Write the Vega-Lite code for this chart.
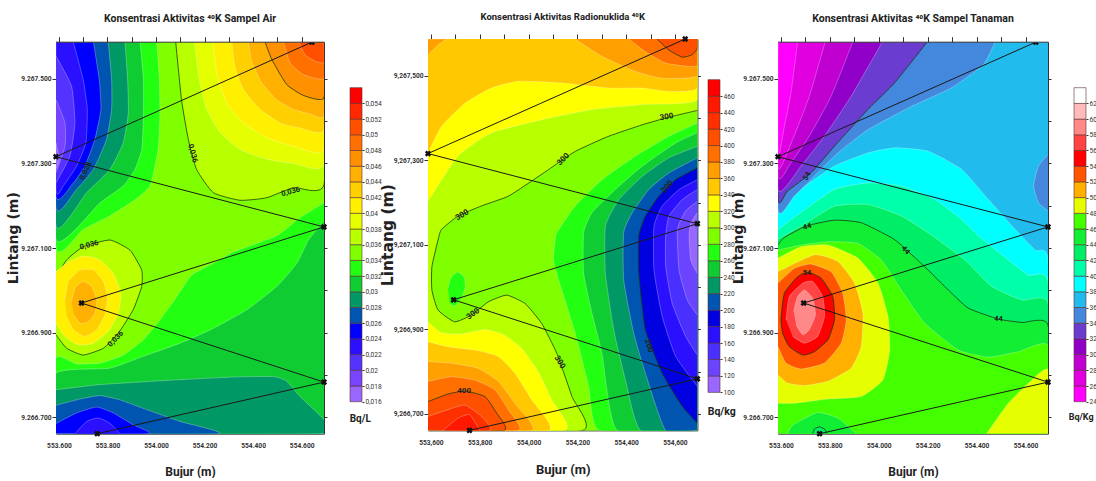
{"$schema":"https://vega.github.io/schema/vega-lite/v6.json","background":"white","padding":{"left":6,"top":12,"right":0,"bottom":0},"bounds":"flush","spacing":0,"resolve":{"scale":{"fill":"independent"}},
"config":{"view":{"stroke":null},"title":{"font":"Roboto","fontWeight":"bold","color":"#222"},"axis":{"labelFont":"Roboto","labelFontWeight":"bold","labelFontSize":6.6,"labelColor":"#333","domainColor":"#333","tickColor":"#333","grid":false}},
"datasets":{
"st":[{"x":554.642,"y":9267.587},{"x":553.588,"y":9267.316},{"x":554.692,"y":9267.15},{"x":553.693,"y":9266.97},{"x":554.692,"y":9266.783},{"x":553.758,"y":9266.661}],
"l1":[{"t":"0,036","x":554.151,"y":9267.324,"a":75},{"t":"0,036","x":554.555,"y":9267.233,"a":-15},{"t":"0,036","x":553.725,"y":9267.107,"a":-15},{"t":"0,036","x":553.834,"y":9266.885,"a":-45},{"t":"0,028","x":553.711,"y":9267.282,"a":-65}],
"l2":[{"t":"300","x":554.566,"y":9267.402,"a":-10},{"t":"300","x":554.143,"y":9267.302,"a":-45},{"t":"300","x":553.728,"y":9267.17,"a":-30},{"t":"300","x":553.773,"y":9266.936,"a":-35},{"t":"300","x":554.127,"y":9266.822,"a":60},{"t":"400","x":553.736,"y":9266.754,"a":0},{"t":"200","x":554.569,"y":9267.237,"a":-50},{"t":"200","x":554.493,"y":9266.861,"a":75}],
"l3":[{"t":"54","x":553.707,"y":9267.27,"a":-60},{"t":"44","x":553.707,"y":9267.15,"a":-15},{"t":"44","x":554.109,"y":9267.095,"a":50},{"t":"44","x":554.489,"y":9266.932,"a":5},{"t":"54","x":553.707,"y":9267.04,"a":0}],
"b1":[{"v":0.016,"w":0.018},{"v":0.018,"w":0.02},{"v":0.02,"w":0.022},{"v":0.022,"w":0.024},{"v":0.024,"w":0.026},{"v":0.026,"w":0.028},{"v":0.028,"w":0.03},{"v":0.03,"w":0.032},{"v":0.032,"w":0.034},{"v":0.034,"w":0.036},{"v":0.036,"w":0.038},{"v":0.038,"w":0.04},{"v":0.04,"w":0.042},{"v":0.042,"w":0.044},{"v":0.044,"w":0.046},{"v":0.046,"w":0.048},{"v":0.048,"w":0.05},{"v":0.05,"w":0.052},{"v":0.052,"w":0.054},{"v":0.054,"w":0.056}],
"b2":[{"v":100,"w":120},{"v":120,"w":140},{"v":140,"w":160},{"v":160,"w":180},{"v":180,"w":200},{"v":200,"w":220},{"v":220,"w":240},{"v":240,"w":260},{"v":260,"w":280},{"v":280,"w":300},{"v":300,"w":320},{"v":320,"w":340},{"v":340,"w":360},{"v":360,"w":380},{"v":380,"w":400},{"v":400,"w":420},{"v":420,"w":440},{"v":440,"w":460},{"v":460,"w":480}],
"b3":[{"v":24,"w":26},{"v":26,"w":28},{"v":28,"w":30},{"v":30,"w":32},{"v":32,"w":34},{"v":34,"w":36},{"v":36,"w":38},{"v":38,"w":40},{"v":40,"w":42},{"v":42,"w":44},{"v":44,"w":46},{"v":46,"w":48},{"v":48,"w":50},{"v":50,"w":52},{"v":52,"w":54},{"v":54,"w":56},{"v":56,"w":58},{"v":58,"w":60},{"v":60,"w":62},{"v":62,"w":64}],
"p1":[
{"v":0.034,"x":553.588,"y":9266.661},{"v":0.034,"x":554.692,"y":9266.661},{"v":0.034,"x":554.692,"y":9267.587},{"v":0.034,"x":553.588,"y":9267.587},
{"v":0.036,"x":554.081,"y":9267.588},{"v":0.036,"x":554.105,"y":9267.451},{"v":0.036,"x":554.133,"y":9267.357},{"v":0.036,"x":554.167,"y":9267.286},{"v":0.036,"x":554.236,"y":9267.231},{"v":0.036,"x":554.346,"y":9267.213},{"v":0.036,"x":554.456,"y":9267.219},{"v":0.036,"x":554.566,"y":9267.243},{"v":0.036,"x":554.692,"y":9267.25},{"v":0.036,"x":554.692,"y":9267.588},
{"v":0.0361,"x":553.588,"y":9267.029},{"v":0.0361,"x":553.632,"y":9267.072},{"v":0.0361,"x":553.7,"y":9267.103},{"v":0.0361,"x":553.81,"y":9267.119},{"v":0.0361,"x":553.893,"y":9267.095},{"v":0.0361,"x":553.941,"y":9267.048},{"v":0.0361,"x":553.941,"y":9267.009},{"v":0.0361,"x":553.906,"y":9266.954},{"v":0.0361,"x":553.845,"y":9266.899},{"v":0.0361,"x":553.783,"y":9266.863},{"v":0.0361,"x":553.7,"y":9266.847},{"v":0.0361,"x":553.632,"y":9266.863},{"v":0.0361,"x":553.588,"y":9266.895},
{"v":0.038,"x":554.158,"y":9267.588},{"v":0.038,"x":554.178,"y":9267.498},{"v":0.038,"x":554.209,"y":9267.428},{"v":0.038,"x":554.264,"y":9267.373},{"v":0.038,"x":554.346,"y":9267.333},{"v":0.038,"x":554.456,"y":9267.31},{"v":0.038,"x":554.566,"y":9267.3},{"v":0.038,"x":554.692,"y":9267.298},{"v":0.038,"x":554.692,"y":9267.588},
{"v":0.04,"x":554.236,"y":9267.588},{"v":0.04,"x":554.25,"y":9267.514},{"v":0.04,"x":554.291,"y":9267.443},{"v":0.04,"x":554.36,"y":9267.396},{"v":0.04,"x":554.456,"y":9267.361},{"v":0.04,"x":554.566,"y":9267.341},{"v":0.04,"x":554.692,"y":9267.333},{"v":0.04,"x":554.692,"y":9267.588},
{"v":0.0401,"x":553.588,"y":9267.044},{"v":0.0401,"x":553.632,"y":9267.064},{"v":0.0401,"x":553.7,"y":9267.081},{"v":0.0401,"x":553.769,"y":9267.072},{"v":0.0401,"x":553.824,"y":9267.04},{"v":0.0401,"x":553.854,"y":9266.993},{"v":0.0401,"x":553.845,"y":9266.946},{"v":0.0401,"x":553.803,"y":9266.903},{"v":0.0401,"x":553.742,"y":9266.875},{"v":0.0401,"x":553.68,"y":9266.871},{"v":0.0401,"x":553.625,"y":9266.891},{"v":0.0401,"x":553.588,"y":9266.922},
{"v":0.042,"x":554.312,"y":9267.588},{"v":0.042,"x":554.325,"y":9267.53},{"v":0.042,"x":554.36,"y":9267.475},{"v":0.042,"x":554.429,"y":9267.428},{"v":0.042,"x":554.511,"y":9267.396},{"v":0.042,"x":554.593,"y":9267.384},{"v":0.042,"x":554.692,"y":9267.38},{"v":0.042,"x":554.692,"y":9267.588},
{"v":0.0421,"x":553.625,"y":9266.977},{"v":0.0421,"x":553.639,"y":9267.021},{"v":0.0421,"x":553.687,"y":9267.048},{"v":0.0421,"x":553.742,"y":9267.048},{"v":0.0421,"x":553.783,"y":9267.021},{"v":0.0421,"x":553.8,"y":9266.985},{"v":0.0421,"x":553.79,"y":9266.942},{"v":0.0421,"x":553.756,"y":9266.907},{"v":0.0421,"x":553.707,"y":9266.891},{"v":0.0421,"x":553.659,"y":9266.907},{"v":0.0421,"x":553.632,"y":9266.938},
{"v":0.044,"x":554.38,"y":9267.588},{"v":0.044,"x":554.394,"y":9267.542},{"v":0.044,"x":554.435,"y":9267.491},{"v":0.044,"x":554.497,"y":9267.451},{"v":0.044,"x":554.566,"y":9267.428},{"v":0.044,"x":554.635,"y":9267.417},{"v":0.044,"x":554.692,"y":9267.414},{"v":0.044,"x":554.692,"y":9267.588},
{"v":0.0441,"x":553.652,"y":9266.973},{"v":0.0441,"x":553.666,"y":9267.005},{"v":0.0441,"x":553.7,"y":9267.021},{"v":0.0441,"x":553.735,"y":9267.009},{"v":0.0441,"x":553.756,"y":9266.977},{"v":0.0441,"x":553.749,"y":9266.946},{"v":0.0441,"x":553.721,"y":9266.926},{"v":0.0441,"x":553.687,"y":9266.922},{"v":0.0441,"x":553.662,"y":9266.942},
{"v":0.046,"x":554.449,"y":9267.588},{"v":0.046,"x":554.477,"y":9267.546},{"v":0.046,"x":554.538,"y":9267.487},{"v":0.046,"x":554.607,"y":9267.461},{"v":0.046,"x":554.692,"y":9267.455},{"v":0.046,"x":554.692,"y":9267.588},
{"v":0.048,"x":554.525,"y":9267.588},{"v":0.048,"x":554.552,"y":9267.538},{"v":0.048,"x":554.607,"y":9267.51},{"v":0.048,"x":554.692,"y":9267.501},{"v":0.048,"x":554.692,"y":9267.588},
{"v":0.05,"x":554.587,"y":9267.588},{"v":0.05,"x":554.614,"y":9267.557},{"v":0.05,"x":554.655,"y":9267.542},{"v":0.05,"x":554.692,"y":9267.539},{"v":0.05,"x":554.692,"y":9267.588},
{"v":0.032,"x":554.003,"y":9267.588},{"v":0.032,"x":554.014,"y":9267.498},{"v":0.032,"x":554.016,"y":9267.412},{"v":0.032,"x":554.009,"y":9267.333},{"v":0.032,"x":553.975,"y":9267.247},{"v":0.032,"x":553.906,"y":9267.211},{"v":0.032,"x":553.81,"y":9267.176},{"v":0.032,"x":553.7,"y":9267.144},{"v":0.032,"x":553.588,"y":9267.101},{"v":0.032,"x":553.588,"y":9267.588},
{"v":0.0321,"x":554.692,"y":9267.207},{"v":0.0321,"x":554.593,"y":9267.172},{"v":0.0321,"x":554.497,"y":9267.129},{"v":0.0321,"x":554.319,"y":9267.091},{"v":0.0321,"x":554.236,"y":9267.064},{"v":0.0321,"x":554.147,"y":9267.036},{"v":0.0321,"x":554.085,"y":9266.985},{"v":0.0321,"x":554.016,"y":9266.93},{"v":0.0321,"x":553.948,"y":9266.883},{"v":0.0321,"x":553.865,"y":9266.847},{"v":0.0321,"x":553.769,"y":9266.828},{"v":0.0321,"x":553.673,"y":9266.826},{"v":0.0321,"x":553.588,"y":9266.84},{"v":0.0321,"x":553.588,"y":9266.661},{"v":0.0321,"x":554.692,"y":9266.661},
{"v":0.03,"x":553.934,"y":9267.588},{"v":0.03,"x":553.948,"y":9267.498},{"v":0.03,"x":553.948,"y":9267.412},{"v":0.03,"x":553.941,"y":9267.333},{"v":0.03,"x":553.913,"y":9267.286},{"v":0.03,"x":553.865,"y":9267.247},{"v":0.03,"x":553.769,"y":9267.207},{"v":0.03,"x":553.588,"y":9267.121},{"v":0.03,"x":553.588,"y":9267.588},
{"v":0.0301,"x":554.692,"y":9267.164},{"v":0.0301,"x":554.628,"y":9267.119},{"v":0.0301,"x":554.58,"y":9267.064},{"v":0.0301,"x":554.497,"y":9267.009},{"v":0.0301,"x":554.374,"y":9266.954},{"v":0.0301,"x":554.236,"y":9266.91},{"v":0.0301,"x":554.099,"y":9266.875},{"v":0.0301,"x":553.948,"y":9266.844},{"v":0.0301,"x":553.81,"y":9266.816},{"v":0.0301,"x":553.588,"y":9266.804},{"v":0.0301,"x":553.588,"y":9266.661},{"v":0.0301,"x":554.692,"y":9266.661},
{"v":0.028,"x":553.872,"y":9267.588},{"v":0.028,"x":553.883,"y":9267.498},{"v":0.028,"x":553.886,"y":9267.42},{"v":0.028,"x":553.865,"y":9267.349},{"v":0.028,"x":553.81,"y":9267.286},{"v":0.028,"x":553.714,"y":9267.231},{"v":0.028,"x":553.588,"y":9267.152},{"v":0.028,"x":553.588,"y":9267.588},
{"v":0.0281,"x":553.588,"y":9266.765},{"v":0.0281,"x":553.769,"y":9266.777},{"v":0.0281,"x":554.044,"y":9266.787},{"v":0.0281,"x":554.319,"y":9266.795},{"v":0.0281,"x":554.484,"y":9266.796},{"v":0.0281,"x":554.538,"y":9266.785},{"v":0.0281,"x":554.593,"y":9266.749},{"v":0.0281,"x":554.692,"y":9266.694},{"v":0.0281,"x":554.692,"y":9266.661},{"v":0.0281,"x":553.588,"y":9266.661},
{"v":0.026,"x":553.803,"y":9267.588},{"v":0.026,"x":553.817,"y":9267.498},{"v":0.026,"x":553.817,"y":9267.428},{"v":0.026,"x":553.796,"y":9267.357},{"v":0.026,"x":553.742,"y":9267.286},{"v":0.026,"x":553.673,"y":9267.239},{"v":0.026,"x":553.588,"y":9267.195},{"v":0.026,"x":553.588,"y":9267.588},
{"v":0.0261,"x":553.588,"y":9266.728},{"v":0.0261,"x":553.687,"y":9266.743},{"v":0.0261,"x":553.769,"y":9266.751},{"v":0.0261,"x":553.851,"y":9266.741},{"v":0.0261,"x":553.961,"y":9266.718},{"v":0.0261,"x":554.099,"y":9266.69},{"v":0.0261,"x":554.257,"y":9266.661},{"v":0.0261,"x":553.588,"y":9266.661},
{"v":0.024,"x":553.742,"y":9267.588},{"v":0.024,"x":553.766,"y":9267.498},{"v":0.024,"x":553.773,"y":9267.428},{"v":0.024,"x":553.748,"y":9267.357},{"v":0.024,"x":553.707,"y":9267.294},{"v":0.024,"x":553.659,"y":9267.254},{"v":0.024,"x":553.588,"y":9267.223},{"v":0.024,"x":553.588,"y":9267.588},
{"v":0.0241,"x":553.588,"y":9266.685},{"v":0.0241,"x":553.673,"y":9266.71},{"v":0.0241,"x":553.755,"y":9266.724},{"v":0.0241,"x":553.824,"y":9266.71},{"v":0.0241,"x":553.906,"y":9266.682},{"v":0.0241,"x":553.968,"y":9266.661},{"v":0.0241,"x":553.588,"y":9266.661},
{"v":0.022,"x":553.659,"y":9267.588},{"v":0.022,"x":553.7,"y":9267.498},{"v":0.022,"x":553.717,"y":9267.428},{"v":0.022,"x":553.711,"y":9267.349},{"v":0.022,"x":553.673,"y":9267.294},{"v":0.022,"x":553.618,"y":9267.247},{"v":0.022,"x":553.588,"y":9267.239},{"v":0.022,"x":553.588,"y":9267.588},
{"v":0.0221,"x":553.666,"y":9266.661},{"v":0.0221,"x":553.714,"y":9266.69},{"v":0.0221,"x":553.762,"y":9266.698},{"v":0.0221,"x":553.81,"y":9266.686},{"v":0.0221,"x":553.851,"y":9266.661},
{"v":0.02,"x":553.588,"y":9267.554},{"v":0.02,"x":553.652,"y":9267.483},{"v":0.02,"x":553.666,"y":9267.396},{"v":0.02,"x":553.645,"y":9267.317},{"v":0.02,"x":553.588,"y":9267.254},
{"v":0.018,"x":553.588,"y":9267.451},{"v":0.018,"x":553.625,"y":9267.396},{"v":0.018,"x":553.625,"y":9267.341},{"v":0.018,"x":553.588,"y":9267.278},
{"v":0.016,"x":553.588,"y":9267.349},{"v":0.016,"x":553.601,"y":9267.31},{"v":0.016,"x":553.588,"y":9267.286}],
"p2":[
{"v":280,"x":553.588,"y":9266.661},{"v":280,"x":554.692,"y":9266.661},{"v":280,"x":554.692,"y":9267.587},{"v":280,"x":553.588,"y":9267.587},
{"v":300,"x":554.692,"y":9267.418},{"v":300,"x":554.575,"y":9267.402},{"v":300,"x":554.466,"y":9267.384},{"v":300,"x":554.329,"y":9267.357},{"v":300,"x":554.191,"y":9267.321},{"v":300,"x":554.082,"y":9267.278},{"v":300,"x":554.013,"y":9267.251},{"v":300,"x":553.917,"y":9267.215},{"v":300,"x":553.807,"y":9267.192},{"v":300,"x":553.711,"y":9267.168},{"v":300,"x":553.643,"y":9267.136},{"v":300,"x":553.629,"y":9267.111},{"v":300,"x":553.604,"y":9267.048},{"v":300,"x":553.604,"y":9266.993},{"v":300,"x":553.629,"y":9266.946},{"v":300,"x":553.697,"y":9266.918},{"v":300,"x":553.766,"y":9266.934},{"v":300,"x":553.835,"y":9266.965},{"v":300,"x":553.91,"y":9266.981},{"v":300,"x":553.986,"y":9266.961},{"v":300,"x":554.054,"y":9266.914},{"v":300,"x":554.116,"y":9266.843},{"v":300,"x":554.178,"y":9266.741},{"v":300,"x":554.222,"y":9266.661},{"v":300,"x":553.588,"y":9266.661},{"v":300,"x":553.588,"y":9267.587},{"v":300,"x":554.692,"y":9267.587},
{"v":320,"x":553.588,"y":9267.203},{"v":320,"x":553.711,"y":9267.31},{"v":320,"x":553.848,"y":9267.365},{"v":320,"x":554.054,"y":9267.396},{"v":320,"x":554.26,"y":9267.42},{"v":320,"x":554.466,"y":9267.432},{"v":320,"x":554.692,"y":9267.443},{"v":320,"x":554.692,"y":9267.587},{"v":320,"x":553.588,"y":9267.587},
{"v":320.5,"x":553.588,"y":9266.918},{"v":320.5,"x":553.643,"y":9266.892},{"v":320.5,"x":553.725,"y":9266.889},{"v":320.5,"x":553.821,"y":9266.9},{"v":320.5,"x":553.896,"y":9266.888},{"v":320.5,"x":553.972,"y":9266.855},{"v":320.5,"x":554.04,"y":9266.8},{"v":320.5,"x":554.095,"y":9266.733},{"v":320.5,"x":554.147,"y":9266.661},{"v":320.5,"x":553.588,"y":9266.661},
{"v":340,"x":553.588,"y":9267.317},{"v":340,"x":553.643,"y":9267.38},{"v":340,"x":553.739,"y":9267.435},{"v":340,"x":553.848,"y":9267.471},{"v":340,"x":553.958,"y":9267.487},{"v":340,"x":554.136,"y":9267.483},{"v":340,"x":554.329,"y":9267.471},{"v":340,"x":554.466,"y":9267.471},{"v":340,"x":554.575,"y":9267.463},{"v":340,"x":554.692,"y":9267.471},{"v":340,"x":554.692,"y":9267.587},{"v":340,"x":553.588,"y":9267.587},
{"v":340.5,"x":553.588,"y":9266.871},{"v":340.5,"x":553.67,"y":9266.859},{"v":340.5,"x":553.78,"y":9266.851},{"v":340.5,"x":553.876,"y":9266.836},{"v":340.5,"x":553.944,"y":9266.796},{"v":340.5,"x":554.013,"y":9266.733},{"v":340.5,"x":554.082,"y":9266.661},{"v":340.5,"x":553.588,"y":9266.661},
{"v":360,"x":553.588,"y":9267.55},{"v":360,"x":553.629,"y":9267.573},{"v":360,"x":553.663,"y":9267.587},{"v":360,"x":553.588,"y":9267.587},
{"v":360.5,"x":554.191,"y":9267.587},{"v":360.5,"x":554.301,"y":9267.546},{"v":360.5,"x":554.438,"y":9267.51},{"v":360.5,"x":554.548,"y":9267.494},{"v":360.5,"x":554.692,"y":9267.5},{"v":360.5,"x":554.692,"y":9267.587},
{"v":360.6,"x":553.588,"y":9266.824},{"v":360.6,"x":553.684,"y":9266.82},{"v":360.6,"x":553.793,"y":9266.808},{"v":360.6,"x":553.876,"y":9266.777},{"v":360.6,"x":553.944,"y":9266.725},{"v":360.6,"x":554.013,"y":9266.661},{"v":360.6,"x":553.588,"y":9266.661},
{"v":380,"x":554.411,"y":9267.587},{"v":380,"x":554.479,"y":9267.557},{"v":380,"x":554.562,"y":9267.53},{"v":380,"x":554.658,"y":9267.522},{"v":380,"x":554.692,"y":9267.526},{"v":380,"x":554.692,"y":9267.587},
{"v":380.5,"x":553.588,"y":9266.777},{"v":380.5,"x":553.684,"y":9266.788},{"v":380.5,"x":553.78,"y":9266.78},{"v":380.5,"x":553.862,"y":9266.757},{"v":380.5,"x":553.917,"y":9266.71},{"v":380.5,"x":553.958,"y":9266.661},{"v":380.5,"x":553.588,"y":9266.661},
{"v":400,"x":554.527,"y":9267.587},{"v":400,"x":554.575,"y":9267.561},{"v":400,"x":554.63,"y":9267.544},{"v":400,"x":554.671,"y":9267.55},{"v":400,"x":554.692,"y":9267.565},{"v":400,"x":554.692,"y":9267.587},
{"v":400.5,"x":553.588,"y":9266.729},{"v":400.5,"x":553.67,"y":9266.747},{"v":400.5,"x":553.739,"y":9266.754},{"v":400.5,"x":553.821,"y":9266.741},{"v":400.5,"x":553.869,"y":9266.702},{"v":400.5,"x":553.9,"y":9266.661},{"v":400.5,"x":553.588,"y":9266.661},
{"v":420,"x":553.588,"y":9266.694},{"v":420,"x":553.67,"y":9266.71},{"v":420,"x":553.739,"y":9266.721},{"v":420,"x":553.807,"y":9266.694},{"v":420,"x":553.841,"y":9266.661},{"v":420,"x":553.588,"y":9266.661},
{"v":440,"x":553.649,"y":9266.661},{"v":440,"x":553.711,"y":9266.69},{"v":440,"x":553.759,"y":9266.698},{"v":440,"x":553.8,"y":9266.661},
{"v":260,"x":554.692,"y":9267.388},{"v":260,"x":554.575,"y":9267.357},{"v":260,"x":554.438,"y":9267.31},{"v":260,"x":554.301,"y":9267.254},{"v":260,"x":554.191,"y":9267.192},{"v":260,"x":554.116,"y":9267.129},{"v":260,"x":554.109,"y":9267.111},{"v":260,"x":554.102,"y":9267.064},{"v":260,"x":554.123,"y":9267.017},{"v":260,"x":554.191,"y":9266.891},{"v":260,"x":554.246,"y":9266.765},{"v":260,"x":554.29,"y":9266.661},{"v":260,"x":554.692,"y":9266.661},
{"v":260.5,"x":553.67,"y":9266.997},{"v":260.5,"x":553.681,"y":9267.021},{"v":260.5,"x":553.708,"y":9267.036},{"v":260.5,"x":553.736,"y":9267.024},{"v":260.5,"x":553.741,"y":9267.001},{"v":260.5,"x":553.725,"y":9266.973},{"v":260.5,"x":553.697,"y":9266.955},{"v":260.5,"x":553.677,"y":9266.961},
{"v":240,"x":554.692,"y":9267.365},{"v":240,"x":554.603,"y":9267.341},{"v":240,"x":554.466,"y":9267.286},{"v":240,"x":554.356,"y":9267.231},{"v":240,"x":554.26,"y":9267.176},{"v":240,"x":554.226,"y":9267.129},{"v":240,"x":554.226,"y":9267.032},{"v":240,"x":554.26,"y":9266.938},{"v":240,"x":554.301,"y":9266.843},{"v":240,"x":554.363,"y":9266.661},{"v":240,"x":554.692,"y":9266.661},
{"v":220,"x":554.692,"y":9267.333},{"v":220,"x":554.575,"y":9267.306},{"v":220,"x":554.466,"y":9267.262},{"v":220,"x":554.37,"y":9267.207},{"v":220,"x":554.315,"y":9267.144},{"v":220,"x":554.315,"y":9267.032},{"v":220,"x":554.349,"y":9266.899},{"v":220,"x":554.397,"y":9266.78},{"v":220,"x":554.459,"y":9266.661},{"v":220,"x":554.692,"y":9266.661},
{"v":200,"x":554.692,"y":9267.306},{"v":200,"x":554.575,"y":9267.27},{"v":200,"x":554.493,"y":9267.231},{"v":200,"x":554.425,"y":9267.176},{"v":200,"x":554.39,"y":9267.129},{"v":200,"x":554.39,"y":9267.017},{"v":200,"x":554.431,"y":9266.891},{"v":200,"x":554.479,"y":9266.796},{"v":200,"x":554.562,"y":9266.661},{"v":200,"x":554.692,"y":9266.661},
{"v":180,"x":554.692,"y":9267.282},{"v":180,"x":554.603,"y":9267.254},{"v":180,"x":554.534,"y":9267.215},{"v":180,"x":554.479,"y":9267.168},{"v":180,"x":554.452,"y":9267.121},{"v":180,"x":554.452,"y":9267.032},{"v":180,"x":554.479,"y":9266.899},{"v":180,"x":554.548,"y":9266.796},{"v":180,"x":554.63,"y":9266.718},{"v":180,"x":554.692,"y":9266.678},
{"v":160,"x":554.692,"y":9267.254},{"v":160,"x":554.617,"y":9267.231},{"v":160,"x":554.548,"y":9267.192},{"v":160,"x":554.514,"y":9267.144},{"v":160,"x":554.514,"y":9267.04},{"v":160,"x":554.548,"y":9266.93},{"v":160,"x":554.603,"y":9266.836},{"v":160,"x":554.692,"y":9266.765},
{"v":140,"x":554.692,"y":9267.231},{"v":140,"x":554.63,"y":9267.207},{"v":140,"x":554.575,"y":9267.168},{"v":140,"x":554.562,"y":9267.121},{"v":140,"x":554.562,"y":9267.048},{"v":140,"x":554.589,"y":9266.961},{"v":140,"x":554.644,"y":9266.883},{"v":140,"x":554.692,"y":9266.839},
{"v":120,"x":554.692,"y":9267.203},{"v":120,"x":554.644,"y":9267.18},{"v":120,"x":554.61,"y":9267.136},{"v":120,"x":554.617,"y":9267.04},{"v":120,"x":554.651,"y":9266.969},{"v":120,"x":554.692,"y":9266.934},
{"v":100,"x":554.692,"y":9267.176},{"v":100,"x":554.665,"y":9267.152},{"v":100,"x":554.658,"y":9267.121},{"v":100,"x":554.665,"y":9267.064},{"v":100,"x":554.692,"y":9267.032}],
"p3":[
{"v":36,"x":553.588,"y":9266.661},{"v":36,"x":554.692,"y":9266.661},{"v":36,"x":554.692,"y":9267.588},{"v":36,"x":553.588,"y":9267.588},
{"v":38,"x":553.588,"y":9267.184},{"v":38,"x":553.682,"y":9267.239},{"v":38,"x":553.819,"y":9267.294},{"v":38,"x":553.956,"y":9267.325},{"v":38,"x":554.065,"y":9267.337},{"v":38,"x":554.202,"y":9267.329},{"v":38,"x":554.339,"y":9267.286},{"v":38,"x":554.448,"y":9267.215},{"v":38,"x":554.558,"y":9267.144},{"v":38,"x":554.64,"y":9267.095},{"v":38,"x":554.692,"y":9267.072},{"v":38,"x":554.692,"y":9266.661},{"v":38,"x":553.588,"y":9266.661},
{"v":40,"x":553.588,"y":9267.144},{"v":40,"x":553.682,"y":9267.184},{"v":40,"x":553.819,"y":9267.239},{"v":40,"x":553.956,"y":9267.254},{"v":40,"x":554.092,"y":9267.247},{"v":40,"x":554.229,"y":9267.215},{"v":40,"x":554.339,"y":9267.168},{"v":40,"x":554.407,"y":9267.129},{"v":40,"x":554.53,"y":9267.072},{"v":40,"x":554.612,"y":9267.036},{"v":40,"x":554.692,"y":9267.021},{"v":40,"x":554.692,"y":9266.661},{"v":40,"x":553.588,"y":9266.661},
{"v":42,"x":553.588,"y":9267.121},{"v":42,"x":553.682,"y":9267.152},{"v":42,"x":553.819,"y":9267.199},{"v":42,"x":553.956,"y":9267.203},{"v":42,"x":554.092,"y":9267.176},{"v":42,"x":554.202,"y":9267.136},{"v":42,"x":554.352,"y":9267.072},{"v":42,"x":554.462,"y":9267.009},{"v":42,"x":554.585,"y":9266.977},{"v":42,"x":554.692,"y":9266.969},{"v":42,"x":554.692,"y":9266.661},{"v":42,"x":553.588,"y":9266.661},
{"v":44,"x":553.588,"y":9267.108},{"v":44,"x":553.614,"y":9267.125},{"v":44,"x":553.703,"y":9267.152},{"v":44,"x":553.819,"y":9267.166},{"v":44,"x":553.928,"y":9267.16},{"v":44,"x":554.051,"y":9267.125},{"v":44,"x":554.092,"y":9267.107},{"v":44,"x":554.202,"y":9267.048},{"v":44,"x":554.284,"y":9267.001},{"v":44,"x":554.366,"y":9266.958},{"v":44,"x":554.489,"y":9266.932},{"v":44,"x":554.585,"y":9266.924},{"v":44,"x":554.692,"y":9266.918},{"v":44,"x":554.692,"y":9266.661},{"v":44,"x":553.588,"y":9266.661},
{"v":46,"x":553.588,"y":9267.095},{"v":46,"x":553.682,"y":9267.107},{"v":46,"x":553.792,"y":9267.115},{"v":46,"x":553.915,"y":9267.111},{"v":46,"x":554.01,"y":9267.072},{"v":46,"x":554.092,"y":9267.001},{"v":46,"x":554.188,"y":9266.922},{"v":46,"x":554.325,"y":9266.859},{"v":46,"x":554.448,"y":9266.842},{"v":46,"x":554.571,"y":9266.855},{"v":46,"x":554.692,"y":9266.869},{"v":46,"x":554.692,"y":9266.661},{"v":46,"x":553.588,"y":9266.661},
{"v":44.5,"x":553.627,"y":9266.661},{"v":44.5,"x":553.65,"y":9266.682},{"v":44.5,"x":553.75,"y":9266.711},{"v":44.5,"x":553.833,"y":9266.698},{"v":44.5,"x":553.908,"y":9266.661},
{"v":42.5,"x":553.73,"y":9266.661},{"v":42.5,"x":553.737,"y":9266.672},{"v":42.5,"x":553.757,"y":9266.677},{"v":42.5,"x":553.778,"y":9266.672},{"v":42.5,"x":553.789,"y":9266.661},
{"v":48,"x":553.588,"y":9267.076},{"v":48,"x":553.682,"y":9267.103},{"v":48,"x":553.792,"y":9267.107},{"v":48,"x":553.915,"y":9267.076},{"v":48,"x":553.997,"y":9267.017},{"v":48,"x":554.038,"y":9266.938},{"v":48,"x":554.045,"y":9266.859},{"v":48,"x":554.017,"y":9266.788},{"v":48,"x":553.928,"y":9266.749},{"v":48,"x":553.792,"y":9266.743},{"v":48,"x":553.655,"y":9266.733},{"v":48,"x":553.588,"y":9266.733},
{"v":48.5,"x":554.441,"y":9266.661},{"v":48.5,"x":554.53,"y":9266.733},{"v":48.5,"x":554.626,"y":9266.788},{"v":48.5,"x":554.692,"y":9266.812},{"v":48.5,"x":554.692,"y":9266.661},
{"v":50,"x":553.588,"y":9267.044},{"v":50,"x":553.737,"y":9267.084},{"v":50,"x":553.833,"y":9267.068},{"v":50,"x":553.901,"y":9267.017},{"v":50,"x":553.935,"y":9266.946},{"v":50,"x":553.928,"y":9266.867},{"v":50,"x":553.887,"y":9266.816},{"v":50,"x":553.792,"y":9266.785},{"v":50,"x":553.696,"y":9266.775},{"v":50,"x":553.627,"y":9266.781},{"v":50,"x":553.588,"y":9266.8},
{"v":52,"x":553.588,"y":9267.017},{"v":52,"x":553.655,"y":9267.052},{"v":52,"x":553.723,"y":9267.062},{"v":52,"x":553.805,"y":9267.044},{"v":52,"x":553.853,"y":9266.993},{"v":52,"x":553.867,"y":9266.93},{"v":52,"x":553.846,"y":9266.875},{"v":52,"x":553.778,"y":9266.828},{"v":52,"x":553.682,"y":9266.814},{"v":52,"x":553.621,"y":9266.828},{"v":52,"x":553.588,"y":9266.867},
{"v":54,"x":553.6,"y":9266.93},{"v":54,"x":553.614,"y":9266.993},{"v":54,"x":553.668,"y":9267.032},{"v":54,"x":553.709,"y":9267.043},{"v":54,"x":553.764,"y":9267.029},{"v":54,"x":553.812,"y":9266.985},{"v":54,"x":553.819,"y":9266.93},{"v":54,"x":553.792,"y":9266.883},{"v":54,"x":553.737,"y":9266.855},{"v":54,"x":553.689,"y":9266.847},{"v":54,"x":553.634,"y":9266.867},{"v":54,"x":553.607,"y":9266.899},{"v":54,"x":553.6,"y":9266.93},
{"v":56,"x":553.621,"y":9266.93},{"v":56,"x":553.634,"y":9266.985},{"v":56,"x":553.689,"y":9267.017},{"v":56,"x":553.73,"y":9267.021},{"v":56,"x":553.771,"y":9266.985},{"v":56,"x":553.778,"y":9266.938},{"v":56,"x":553.75,"y":9266.891},{"v":56,"x":553.696,"y":9266.875},{"v":56,"x":553.648,"y":9266.891},
{"v":58,"x":553.652,"y":9266.95},{"v":58,"x":553.668,"y":9266.985},{"v":58,"x":553.696,"y":9267.001},{"v":58,"x":553.73,"y":9266.981},{"v":58,"x":553.741,"y":9266.942},{"v":58,"x":553.716,"y":9266.907},{"v":58,"x":553.689,"y":9266.895},{"v":58,"x":553.662,"y":9266.918},
{"v":34,"x":554.476,"y":9267.588},{"v":34,"x":554.428,"y":9267.534},{"v":34,"x":554.298,"y":9267.479},{"v":34,"x":554.134,"y":9267.435},{"v":34,"x":553.956,"y":9267.38},{"v":34,"x":553.833,"y":9267.325},{"v":34,"x":553.737,"y":9267.27},{"v":34,"x":553.655,"y":9267.223},{"v":34,"x":553.588,"y":9267.191},{"v":34,"x":553.588,"y":9267.588},
{"v":34.5,"x":554.692,"y":9267.321},{"v":34.5,"x":554.653,"y":9267.294},{"v":34.5,"x":554.633,"y":9267.247},{"v":34.5,"x":554.653,"y":9267.207},{"v":34.5,"x":554.692,"y":9267.188},
{"v":32,"x":554.199,"y":9267.588},{"v":32,"x":554.065,"y":9267.491},{"v":32,"x":553.956,"y":9267.428},{"v":32,"x":553.819,"y":9267.341},{"v":32,"x":553.723,"y":9267.278},{"v":32,"x":553.627,"y":9267.235},{"v":32,"x":553.588,"y":9267.217},{"v":32,"x":553.588,"y":9267.588},
{"v":30,"x":554.015,"y":9267.588},{"v":30,"x":553.887,"y":9267.459},{"v":30,"x":553.778,"y":9267.365},{"v":30,"x":553.682,"y":9267.294},{"v":30,"x":553.588,"y":9267.239},{"v":30,"x":553.588,"y":9267.588},
{"v":28,"x":553.894,"y":9267.588},{"v":28,"x":553.805,"y":9267.459},{"v":28,"x":553.716,"y":9267.365},{"v":28,"x":553.641,"y":9267.302},{"v":28,"x":553.588,"y":9267.27},{"v":28,"x":553.588,"y":9267.588},
{"v":26,"x":553.781,"y":9267.588},{"v":26,"x":553.716,"y":9267.459},{"v":26,"x":553.648,"y":9267.357},{"v":26,"x":553.588,"y":9267.29},{"v":26,"x":553.588,"y":9267.588},
{"v":24,"x":553.668,"y":9267.588},{"v":24,"x":553.641,"y":9267.467},{"v":24,"x":553.614,"y":9267.388},{"v":24,"x":553.588,"y":9267.317},{"v":24,"x":553.588,"y":9267.588}]
},
"hconcat":[
{"width":268,"height":394.7,"title":{"text":"Konsentrasi Aktivitas ⁴⁰K Sampel Air","fontSize":10.5,"offset":12},
"resolve":{"axis":{"x":"independent","y":"independent"}},
"encoding":{"x":{"field":"x","type":"quantitative","scale":{"domain":[553.588,554.692]},"axis":null},"y":{"field":"y","type":"quantitative","scale":{"domain":[9266.661,9267.588],"range":[394.7,2.7]},"axis":null}},
"layer":[
{"data":{"name":"p1"},"mark":{"type":"line","order":null,"interpolate":"cardinal","tension":0.5,"clip":true,"strokeWidth":0.8},"encoding":{
"x":{"field":"x","type":"quantitative","scale":{"domain":[553.588,554.692]},"axis":{"values":[553.6,553.8,554,554.2,554.4,554.6],"labelExpr":"format(datum.value,'.3f')","title":"Bujur (m)","titleFont":"Roboto","titleFontSize":12,"titleColor":"#222","tickSize":0,"labelPadding":9,"titlePadding":17}},
"y":{"field":"y","type":"quantitative","scale":{"domain":[9266.661,9267.588],"range":[394.7,2.7]},"axis":{"values":[9266.7,9266.9,9267.1,9267.3,9267.5],"labelExpr":"replace(format(datum.value,',.3f'),',','.')","title":"Lintang (m)","titleFont":"DejaVu Sans","titleFontSize":14,"titleColor":"#222","tickSize":4,"labelPadding":1,"titlePadding":0}},
"detail":{"field":"v","type":"nominal"},
"fill":{"field":"v","type":"quantitative","legend":null,"scale":{"type":"threshold","domain":[0.018,0.02,0.022,0.024,0.026,0.028,0.03,0.032,0.034,0.036,0.038,0.04,0.042,0.044,0.046,0.048,0.05,0.052,0.054],"range":["#9966ff","#7744ff","#5533ff","#2a10ff","#0000ff","#0055b0","#009966","#10cc33","#22ff11","#7fff00","#b8ff00","#e6ff00","#fff000","#ffd000","#ffb000","#ff9000","#ff7000","#ff5000","#ff2800","#ff0000"]}},
"stroke":{"condition":{"test":"datum.v==0.036||datum.v==0.0361||datum.v==0.046","value":"#1c3a10"},"value":"rgba(255,255,255,0.35)"}}},
{"data":{"name":"l1"},"mark":{"type":"text","font":"Roboto","fontWeight":"bold","fontSize":7.5,"color":"#222"},"encoding":{"x":{"field":"x","type":"quantitative","scale":{"domain":[553.588,554.692]},"axis":{"orient":"top","values":[],"labels":false,"ticks":false,"title":null,"domainColor":"#ffffff","domainWidth":5.4,"zindex":1}},"text":{"field":"t"},"angle":{"field":"a","type":"quantitative","scale":null}}},
{"data":{"name":"st"},"mark":{"type":"line","order":null,"color":"#1a1a1a","strokeWidth":1},"encoding":{
"x":{"field":"x","type":"quantitative","scale":{"domain":[553.588,554.692]},"axis":{"orient":"top","values":[553.6,553.7,553.8,553.9,554,554.1,554.2,554.3,554.4,554.5,554.6],"labels":false,"title":null,"tickSize":5,"offset":-2.7,"zindex":1}},
"y":{"field":"y","type":"quantitative","scale":{"domain":[9266.661,9267.588],"range":[394.7,2.7]},"axis":{"orient":"right","values":[9266.7,9266.8,9266.9,9267,9267.1,9267.2,9267.3,9267.4,9267.5],"labels":false,"title":null,"tickSize":3}}}},
{"data":{"name":"st"},"mark":{"type":"point","shape":"cross","angle":45,"filled":true,"size":40,"color":"#111","opacity":1}}]},
{"width":26,"height":1,"data":{"values":[{"s":0}]},"mark":{"type":"rect","opacity":0}},
{"width":12,"height":370,"title":{"text":"Bq/L","orient":"bottom","anchor":"start","fontSize":10,"offset":5},"data":{"name":"b1"},"mark":{"type":"rect","stroke":"#5a3030","strokeWidth":0.6},"encoding":{
"y":{"field":"v","type":"quantitative","scale":{"domain":[0.016,0.056],"range":[362.7,48.7]},"axis":{"orient":"right","domain":false,"title":null,"tickSize":2,"labelPadding":1,"labelFontWeight":"normal","values":[0.016,0.018,0.02,0.022,0.024,0.026,0.028,0.03,0.032,0.034,0.036,0.038,0.04,0.042,0.044,0.046,0.048,0.05,0.052,0.054],"labelExpr":"replace(format(datum.value,'.3~f'),'.',',')"}},"y2":{"field":"w"},
"fill":{"field":"v","type":"quantitative","legend":null,"scale":{"type":"threshold","domain":[0.018,0.02,0.022,0.024,0.026,0.028,0.03,0.032,0.034,0.036,0.038,0.04,0.042,0.044,0.046,0.048,0.05,0.052,0.054],"range":["#9966ff","#7744ff","#5533ff","#2a10ff","#0000ff","#0055b0","#009966","#10cc33","#22ff11","#7fff00","#b8ff00","#e6ff00","#fff000","#ffd000","#ffb000","#ff9000","#ff7000","#ff5000","#ff2800","#ff0000"]}}}},
{"width":65.6,"height":1,"data":{"values":[{"s":0}]},"mark":{"type":"rect","opacity":0}},
{"width":269.4,"height":391.4,"title":{"text":"Konsentrasi Aktivitas Radionuklida ⁴⁰K","fontSize":9.5,"offset":12},
"resolve":{"axis":{"x":"independent","y":"independent"}},
"encoding":{"x":{"field":"x","type":"quantitative","scale":{"domain":[553.588,554.692]},"axis":null},"y":{"field":"y","type":"quantitative","scale":{"domain":[9266.661,9267.587]},"axis":null}},
"layer":[
{"data":{"name":"p2"},"mark":{"type":"line","order":null,"interpolate":"cardinal","tension":0.5,"clip":true,"strokeWidth":0.8},"encoding":{
"x":{"field":"x","type":"quantitative","scale":{"domain":[553.588,554.692]},"axis":{"values":[553.6,553.8,554,554.2,554.4,554.6],"labelExpr":"replace(format(datum.value,'.3f'),'.',',')","title":"Bujur (m)","titleFont":"Roboto","titleFontSize":13,"titleColor":"#222","tickSize":0,"labelPadding":9,"titlePadding":17}},
"y":{"field":"y","type":"quantitative","scale":{"domain":[9266.661,9267.587]},"axis":{"values":[9266.7,9266.9,9267.1,9267.3,9267.5],"labelExpr":"replace(format(datum.value,',.3f'),'.',',')","title":"Lintang (m)","titleFont":"DejaVu Sans","titleFontSize":15.5,"titleColor":"#222","tickSize":4,"labelPadding":1,"titlePadding":-2}},
"detail":{"field":"v","type":"nominal"},
"fill":{"field":"v","type":"quantitative","legend":null,"scale":{"type":"threshold","domain":[120,140,160,180,200,220,240,260,280,300,320,340,360,380,400,420,440,460],"range":["#9966ff","#6a44ff","#4a30ff","#2a10ff","#0000e0","#0055b0","#009966","#10cc33","#22ff11","#7fff00","#b8ff00","#ffff00","#ffc800","#ffa000","#ff7000","#ff5000","#ff3000","#ff1800","#ff0000"]}},
"stroke":{"condition":{"test":"datum.v==300||datum.v==400||datum.v==400.5||datum.v==180","value":"#1c3a10"},"value":"rgba(255,255,255,0.35)"}}},
{"data":{"name":"l2"},"mark":{"type":"text","font":"Roboto","fontWeight":"bold","fontSize":8,"color":"#222"},"encoding":{"text":{"field":"t"},"angle":{"field":"a","type":"quantitative","scale":null}}},
{"data":{"name":"st"},"mark":{"type":"line","order":null,"color":"#1a1a1a","strokeWidth":1},"encoding":{
"x":{"field":"x","type":"quantitative","scale":{"domain":[553.588,554.692]},"axis":{"orient":"top","values":[553.6,553.7,553.8,553.9,554,554.1,554.2,554.3,554.4,554.5,554.6],"labels":false,"title":null,"tickSize":5}},
"y":{"field":"y","type":"quantitative","scale":{"domain":[9266.661,9267.587]},"axis":{"orient":"right","values":[9266.7,9266.8,9266.9,9267,9267.1,9267.2,9267.3,9267.4,9267.5],"labels":false,"title":null,"tickSize":3}}}},
{"data":{"name":"st"},"mark":{"type":"point","shape":"cross","angle":45,"filled":true,"size":40,"color":"#111","opacity":1}}]},
{"width":9.3,"height":1,"data":{"values":[{"s":0}]},"mark":{"type":"rect","opacity":0}},
{"width":12,"height":363,"title":{"text":"Bq/kg","orient":"bottom","anchor":"start","fontSize":10.5,"offset":5},"data":{"name":"b2"},"mark":{"type":"rect","stroke":"#5a3030","strokeWidth":0.6},"encoding":{
"y":{"field":"v","type":"quantitative","scale":{"domain":[100,480],"range":[353.4,40.7]},"axis":{"orient":"right","domain":false,"title":null,"tickSize":2,"labelPadding":1,"labelFontWeight":"normal","values":[100,120,140,160,180,200,220,240,260,280,300,320,340,360,380,400,420,440,460]}},"y2":{"field":"w"},
"fill":{"field":"v","type":"quantitative","legend":null,"scale":{"type":"threshold","domain":[120,140,160,180,200,220,240,260,280,300,320,340,360,380,400,420,440,460],"range":["#9966ff","#6a44ff","#4a30ff","#2a10ff","#0000e0","#0055b0","#009966","#10cc33","#22ff11","#7fff00","#b8ff00","#ffff00","#ffc800","#ffa000","#ff7000","#ff5000","#ff3000","#ff1800","#ff0000"]}}}},
{"width":57.3,"height":1,"data":{"values":[{"s":0}]},"mark":{"type":"rect","opacity":0}},
{"width":270,"height":394.7,"title":{"text":"Konsentrasi Aktivitas ⁴⁰K Sampel Tanaman","fontSize":10.5,"offset":12},
"resolve":{"axis":{"x":"independent","y":"independent"}},
"encoding":{"x":{"field":"x","type":"quantitative","scale":{"domain":[553.588,554.692]},"axis":null},"y":{"field":"y","type":"quantitative","scale":{"domain":[9266.661,9267.588],"range":[394.7,2.7]},"axis":null}},
"layer":[
{"data":{"name":"p3"},"mark":{"type":"line","order":null,"interpolate":"cardinal","tension":0.5,"clip":true,"strokeWidth":0.8},"encoding":{
"x":{"field":"x","type":"quantitative","scale":{"domain":[553.588,554.692]},"axis":{"values":[553.6,553.8,554,554.2,554.4,554.6],"labelExpr":"format(datum.value,'.3f')","title":"Bujur (m)","titleFont":"Roboto","titleFontSize":12,"titleColor":"#222","tickSize":0,"labelPadding":9,"titlePadding":17}},
"y":{"field":"y","type":"quantitative","scale":{"domain":[9266.661,9267.588],"range":[394.7,2.7]},"axis":{"values":[9266.7,9266.9,9267.1,9267.3,9267.5],"labelExpr":"replace(format(datum.value,',.3f'),',','.')","title":"Lintang (m)","titleFont":"DejaVu Sans","titleFontSize":14,"titleColor":"#222","tickSize":4,"labelPadding":1,"titlePadding":-3}},
"detail":{"field":"v","type":"nominal"},
"fill":{"field":"v","type":"quantitative","legend":null,"scale":{"type":"threshold","domain":[26,28,30,32,34,36,38,40,42,44,46,48,50,52,54,56,58,60,62],"range":["#ff00ff","#e000e0","#c000d0","#9000c8","#6a3cd0","#4488dd","#22bbee","#00ffff","#00ffaa","#00ee66","#11ee33","#44ff00","#e6ff00","#ffb000","#ff5500","#ff0000","#ff4444","#ff8888","#ffbbbb","#ffffff"]}},
"stroke":{"condition":{"test":"datum.v==44||datum.v==42.5||datum.v==54||datum.v==32","value":"#1c3a10"},"value":"rgba(255,255,255,0.35)"}}},
{"data":{"name":"l3"},"mark":{"type":"text","font":"Roboto","fontWeight":"bold","fontSize":7.5,"color":"#222"},"encoding":{"x":{"field":"x","type":"quantitative","scale":{"domain":[553.588,554.692]},"axis":{"orient":"top","values":[],"labels":false,"ticks":false,"title":null,"domainColor":"#ffffff","domainWidth":5.4,"zindex":1}},"text":{"field":"t"},"angle":{"field":"a","type":"quantitative","scale":null}}},
{"data":{"name":"st"},"mark":{"type":"line","order":null,"color":"#1a1a1a","strokeWidth":1},"encoding":{
"x":{"field":"x","type":"quantitative","scale":{"domain":[553.588,554.692]},"axis":{"orient":"top","values":[553.6,553.7,553.8,553.9,554,554.1,554.2,554.3,554.4,554.5,554.6],"labels":false,"title":null,"tickSize":5,"offset":-2.7,"zindex":1}},
"y":{"field":"y","type":"quantitative","scale":{"domain":[9266.661,9267.588],"range":[394.7,2.7]},"axis":{"orient":"right","values":[9266.7,9266.8,9266.9,9267,9267.1,9267.2,9267.3,9267.4,9267.5],"labels":false,"title":null,"tickSize":3}}}},
{"data":{"name":"st"},"mark":{"type":"point","shape":"cross","angle":45,"filled":true,"size":40,"color":"#111","opacity":1}}]},
{"width":25.7,"height":1,"data":{"values":[{"s":0}]},"mark":{"type":"rect","opacity":0}},
{"width":12,"height":369,"title":{"text":"Bq/Kg","orient":"bottom","anchor":"start","fontSize":9,"offset":5,"dx":-5},"data":{"name":"b3"},"mark":{"type":"rect","stroke":"#5a3030","strokeWidth":0.6},"encoding":{
"y":{"field":"v","type":"quantitative","scale":{"domain":[24,64],"range":[362.7,48.7]},"axis":{"orient":"right","domain":false,"title":null,"tickSize":2,"labelPadding":1,"labelFontWeight":"normal","values":[24,26,28,30,32,34,36,38,40,42,44,46,48,50,52,54,56,58,60,62]}},"y2":{"field":"w"},
"fill":{"field":"v","type":"quantitative","legend":null,"scale":{"type":"threshold","domain":[26,28,30,32,34,36,38,40,42,44,46,48,50,52,54,56,58,60,62],"range":["#ff00ff","#e000e0","#c000d0","#9000c8","#6a3cd0","#4488dd","#22bbee","#00ffff","#00ffaa","#00ee66","#11ee33","#44ff00","#e6ff00","#ffb000","#ff5500","#ff0000","#ff4444","#ff8888","#ffbbbb","#ffffff"]}}}}
]}
